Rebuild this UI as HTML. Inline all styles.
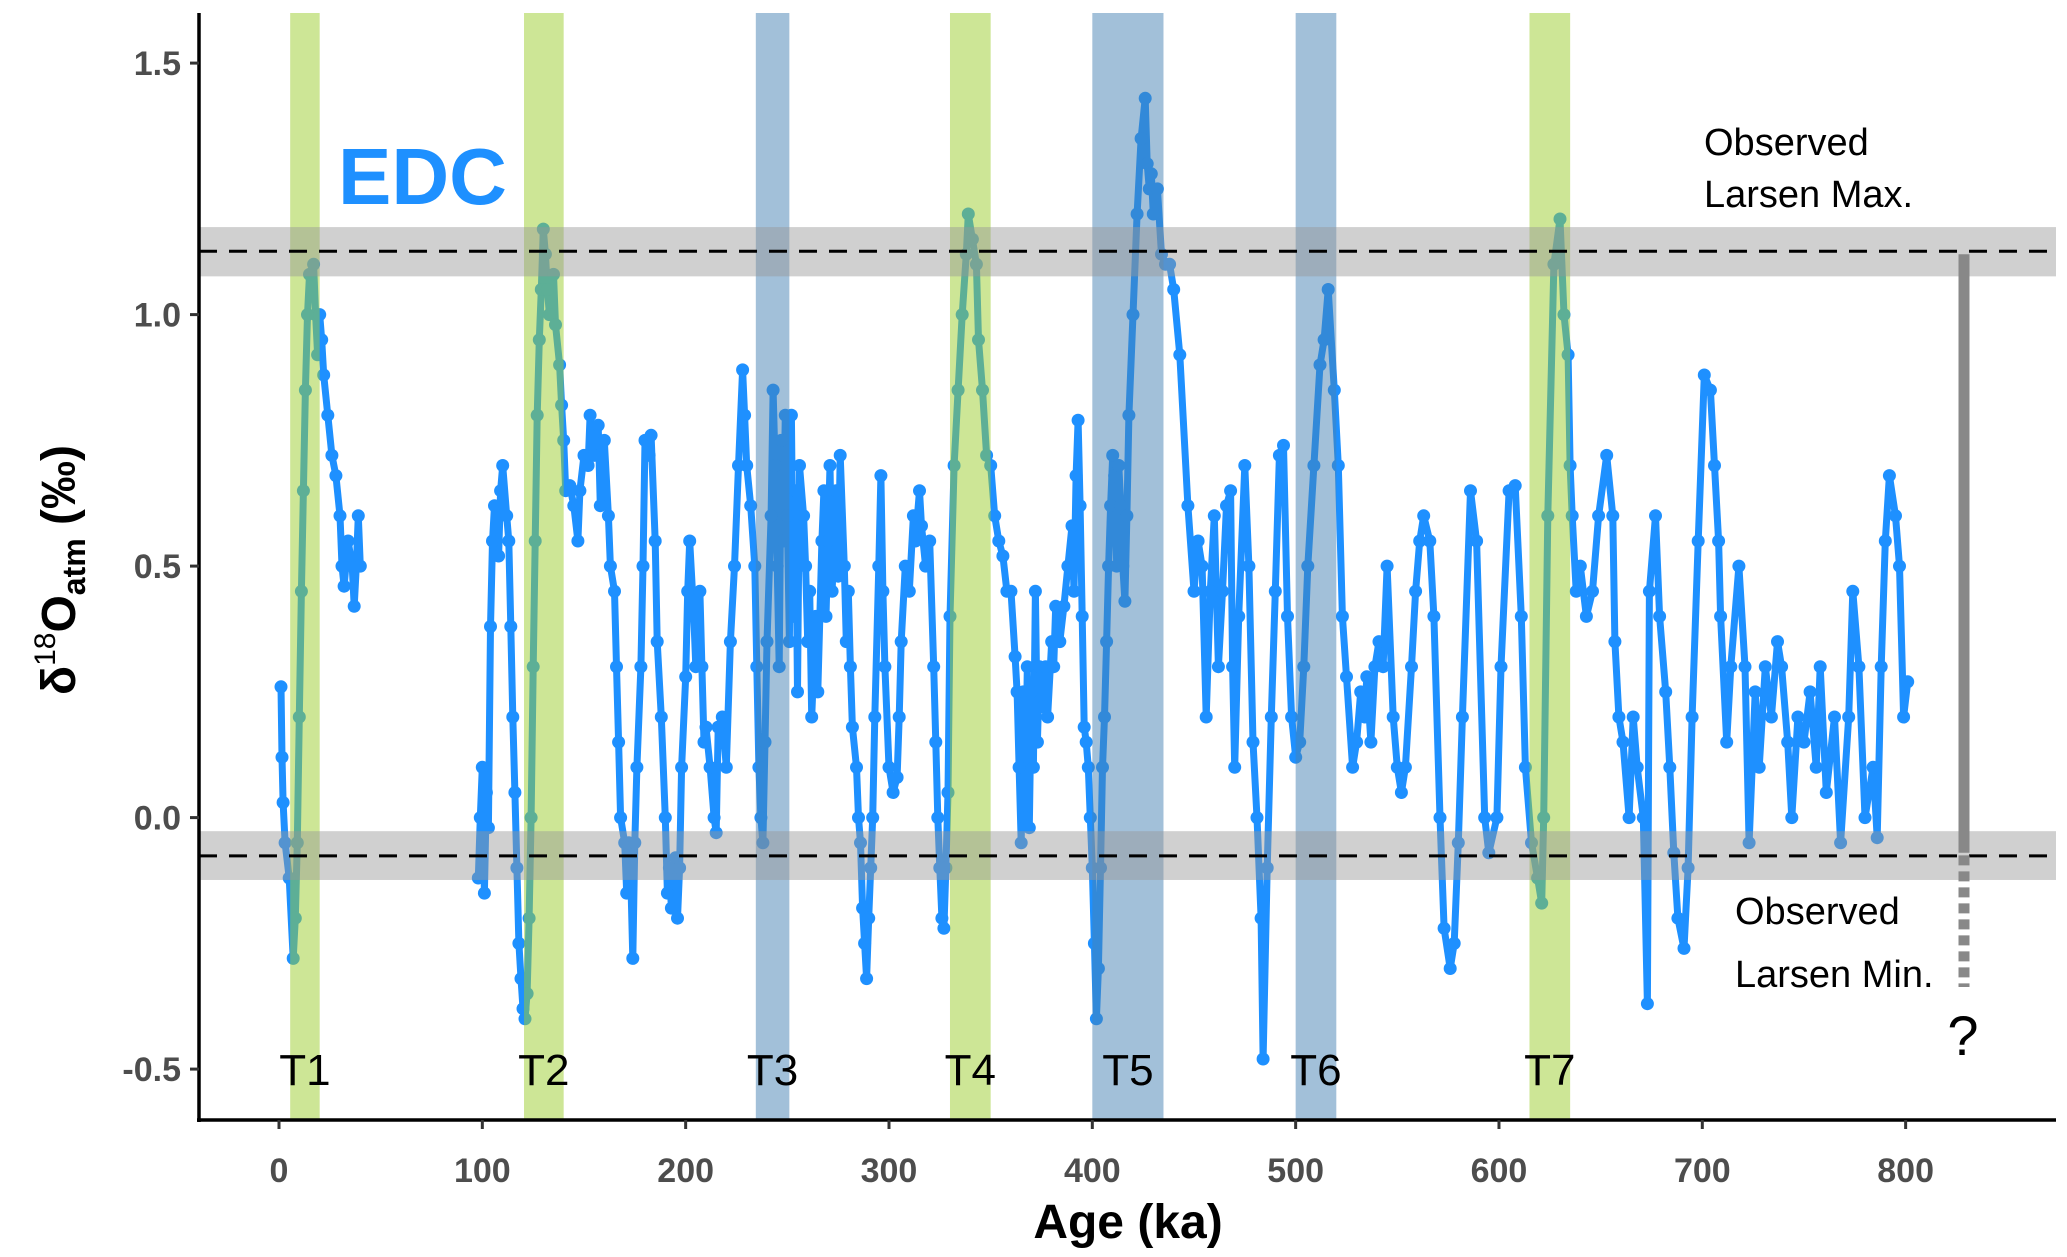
<!DOCTYPE html>
<html><head><meta charset="utf-8"><style>
html,body{margin:0;padding:0;background:#fff;}
svg{display:block;font-family:"Liberation Sans",sans-serif;}
</style></head><body>
<svg id="chart" width="2067" height="1257" viewBox="0 0 2067 1257" xmlns="http://www.w3.org/2000/svg">
<g id="series"></g>
<g id="bands"></g>
<g id="axes"></g>
</svg>
<script>
const ages=[1,1.5,2,3,5,7,8,9,10,11,12,13,14,15,17,18,19,20,21,22,24,26,28,30,31,32,34,36,37,38,39,40,
98,99,100,101,102,103,104,105,106,108,109,110,112,113,114,115,116,117,118,119,120,121,122,123,124,125,126,127,128,129,130,131,132,133,135,136,138,139,140,141,143,145,147,148,150,152,153,155,157,158,160,162,163,165,166,167,168,170,171,172,173,174,175,176,178,179,180,182,183,185,186,188,190,191,192,193,195,196,197,198,200,201,202,204,205,207,208,209,210,212,214,215,216,218,220,222,224,226,228,229,230,232,234,235,236,237,238,239,240,242,243,244,245,246,247,248,249,250,251,252,253,254,255,256,258,259,260,261,262,264,265,267,268,269,270,271,272,274,275,276,278,279,280,281,282,284,285,286,287,288,289,290,291,292,293,295,296,297,298,300,302,304,305,306,308,310,312,313,315,316,318,320,322,323,324,325,326,327,328,329,330,332,334,336,338,339,341,343,344,346,348,350,352,354,356,358,360,362,363,364,365,366,367,368,369,370,371,372,373,374,376,377,378,380,381,382,384,386,388,390,391,392,393,394,395,396,397,398,399,400,401,402,403,404,405,406,407,408,409,410,411,412,413,414,415,416,417,418,420,422,424,426,427,428,429,430,432,434,436,438,440,443,447,
450,452,454,456,458,460,462,464,466,468,469,470,472,475,477,479,481,483,484,486,488,490,492,494,496,498,500,502,504,506,509,512,514,516,519,521,523,525,528,530,532,534,535,537,539,541,543,545,548,550,552,554,557,559,561,563,566,568,571,573,576,578,580,582,586,589,593,595,599,601,605,608,611,613,616,619,621,622,624,627,630,632,634,635,636,638,640,643,646,649,653,656,657,659,661,664,666,668,671,673,674,677,679,682,684,686,688,691,693,695,698,701,704,706,708,709,712,714,718,721,723,726,728,731,734,737,739,742,744,747,750,753,756,758,761,765,768,772,774,777,780,784,786,788,790,792,795,797,799,801];
const d18O=[0.26,0.12,0.03,-0.05,-0.12,-0.28,-0.2,-0.05,0.2,0.45,0.65,0.85,1.0,1.08,1.1,1.0,0.92,1.0,0.95,0.88,0.8,0.72,0.68,0.6,0.5,0.46,0.55,0.5,0.42,0.5,0.6,0.5,
-0.12,0.0,0.1,-0.15,0.05,-0.02,0.38,0.55,0.62,0.52,0.65,0.7,0.6,0.55,0.38,0.2,0.05,-0.1,-0.25,-0.32,-0.38,-0.4,-0.35,-0.2,0.0,0.3,0.55,0.8,0.95,1.05,1.17,1.12,1.05,1.0,1.08,0.98,0.9,0.82,0.75,0.65,0.66,0.62,0.55,0.65,0.72,0.7,0.8,0.72,0.78,0.62,0.75,0.6,0.5,0.45,0.3,0.15,0.0,-0.05,-0.15,-0.05,-0.12,-0.28,-0.05,0.1,0.3,0.5,0.75,0.72,0.76,0.55,0.35,0.2,0.0,-0.15,-0.1,-0.18,-0.08,-0.2,-0.1,0.1,0.28,0.45,0.55,0.4,0.3,0.45,0.3,0.15,0.18,0.1,0.0,-0.03,0.18,0.2,0.1,0.35,0.5,0.7,0.89,0.8,0.7,0.62,0.5,0.3,0.1,0.0,-0.05,0.15,0.35,0.6,0.85,0.7,0.5,0.3,0.75,0.55,0.8,0.6,0.35,0.8,0.4,0.65,0.25,0.7,0.6,0.5,0.35,0.45,0.2,0.4,0.25,0.55,0.65,0.4,0.55,0.7,0.45,0.65,0.48,0.72,0.5,0.35,0.45,0.3,0.18,0.1,0.0,-0.05,-0.18,-0.25,-0.32,-0.2,-0.1,0.0,0.2,0.5,0.68,0.45,0.3,0.1,0.05,0.08,0.2,0.35,0.5,0.45,0.6,0.55,0.65,0.58,0.5,0.55,0.3,0.15,0.0,-0.1,-0.2,-0.22,-0.1,0.05,0.4,0.7,0.85,1.0,1.12,1.2,1.15,1.1,0.95,0.85,0.72,0.7,0.6,0.55,0.52,0.45,0.45,0.32,0.25,0.1,-0.05,0.25,0.0,0.3,-0.02,0.25,0.1,0.45,0.15,0.3,0.22,0.3,0.2,0.35,0.3,0.42,0.35,0.42,0.5,0.58,0.45,0.68,0.79,0.62,0.4,0.18,0.15,0.1,0.0,-0.1,-0.25,-0.4,-0.3,-0.1,0.1,0.2,0.35,0.5,0.62,0.72,0.68,0.5,0.7,0.62,0.5,0.43,0.6,0.8,1.0,1.2,1.35,1.43,1.3,1.25,1.28,1.2,1.25,1.12,1.1,1.1,1.05,0.92,0.62,
0.45,0.55,0.5,0.2,0.45,0.6,0.3,0.45,0.62,0.65,0.3,0.1,0.4,0.7,0.5,0.15,0.0,-0.2,-0.48,-0.1,0.2,0.45,0.72,0.74,0.4,0.2,0.12,0.15,0.3,0.5,0.7,0.9,0.95,1.05,0.85,0.7,0.4,0.28,0.1,0.15,0.25,0.2,0.28,0.15,0.3,0.35,0.3,0.5,0.2,0.1,0.05,0.1,0.3,0.45,0.55,0.6,0.55,0.4,0.0,-0.22,-0.3,-0.25,-0.05,0.2,0.65,0.55,0.0,-0.07,0.0,0.3,0.65,0.66,0.4,0.1,-0.05,-0.12,-0.17,0.0,0.6,1.1,1.19,1.0,0.92,0.7,0.6,0.45,0.5,0.4,0.45,0.6,0.72,0.6,0.35,0.2,0.15,0.0,0.2,0.1,0.0,-0.37,0.45,0.6,0.4,0.25,0.1,-0.07,-0.2,-0.26,-0.1,0.2,0.55,0.88,0.85,0.7,0.55,0.4,0.15,0.3,0.5,0.3,-0.05,0.25,0.1,0.3,0.2,0.35,0.3,0.15,0.0,0.2,0.15,0.25,0.1,0.3,0.05,0.2,-0.05,0.2,0.45,0.3,0.0,0.1,-0.04,0.3,0.55,0.68,0.6,0.5,0.2,0.27];
const xTicks=[0,100,200,300,400,500,600,700,800];
const yTicks=[-0.5,0.0,0.5,1.0,1.5];
const yTickLabels=["-0.5","0.0","0.5","1.0","1.5"];
const termNames=["T1","T2","T3","T4","T5","T6","T7"];
const termStart=[5.5,120.5,234.5,330,400,500,615];
const termEnd=[20,140,251,350,435,520,635];
const termKind=["g","g","b","g","b","b","g"];
const larsenMax=[1.126,1.076,1.174];
const larsenMin=[-0.076,-0.124,-0.027];

const NS="http://www.w3.org/2000/svg";
const X0=199,X1=2056,Y0=13,Y1=1120;
function xs(a){return 279+a*2.0333;}
function ys(v){return 817.6-503*v;}
function mk(tag,attrs,parent,text){const e=document.createElementNS(NS,tag);for(const k in attrs)e.setAttribute(k,attrs[k]);if(text!==undefined)e.textContent=text;parent.appendChild(e);return e;}
const S=document.getElementById('series'),B=document.getElementById('bands'),A=document.getElementById('axes');

let segs=[],cur=[];
for(let i=0;i<ages.length;i++){
  if(i>0&&ages[i]-ages[i-1]>30){segs.push(cur);cur=[];}
  cur.push(xs(ages[i]).toFixed(1)+","+ys(d18O[i]).toFixed(1));
}
segs.push(cur);
segs.forEach((s,i)=>{
  const p=mk('polyline',{points:s.join(' '),fill:'none',stroke:'#1E90FF','stroke-width':7,'stroke-linejoin':'round'},S);
  
  
});
for(let i=0;i<ages.length;i++){
  const c=mk('circle',{cx:xs(ages[i]).toFixed(1),cy:ys(d18O[i]).toFixed(1),r:6.5,fill:'#1E90FF'},S);
  
  
}

for(let i=0;i<termNames.length;i++){
  const r=mk('rect',{x:xs(termStart[i]),y:Y0,width:xs(termEnd[i])-xs(termStart[i]),height:Y1-Y0,fill:termKind[i]==='g'?'rgba(155,205,45,0.5)':'rgba(70,130,180,0.5)'},B);
  
  
}
[[larsenMax,'larsen-max'],[larsenMin,'larsen-min']].forEach(([L,n])=>{
  const r=mk('rect',{x:X0,y:ys(L[2]),width:X1-X0,height:ys(L[1])-ys(L[2]),fill:'rgba(150,150,150,0.45)'},B);
  
  
  const l=mk('line',{x1:X0,x2:X1,y1:ys(L[0]),y2:ys(L[0]),stroke:'#000','stroke-width':3,'stroke-dasharray':'18,12'},B);
  
  
});
for(let i=0;i<termNames.length;i++){
  const t=mk('text',{x:(xs(termStart[i])+xs(termEnd[i]))/2,y:ys(-0.5)+16,'font-size':44,'text-anchor':'middle',fill:'#000'},B,termNames[i]);
  
  
}

let e=mk('line',{x1:X0,x2:X0,y1:Y0,y2:Y1+2,stroke:'#000','stroke-width':3.5},A);

e=mk('line',{x1:X0-2,x2:X1,y1:Y1,y2:Y1,stroke:'#000','stroke-width':3.5},A);

yTicks.forEach((v,i)=>{
  let t=mk('line',{x1:X0-9,x2:X0,y1:ys(v),y2:ys(v),stroke:'#333','stroke-width':3},A);
  
  t=mk('text',{x:X0-18,y:ys(v)+12,'font-size':34,'font-weight':'bold','text-anchor':'end',fill:'#4d4d4d'},A,yTickLabels[i]);
  
});
xTicks.forEach(v=>{
  let t=mk('line',{x1:xs(v),x2:xs(v),y1:Y1,y2:Y1+9,stroke:'#333','stroke-width':3},A);
  
  t=mk('text',{x:xs(v),y:1182,'font-size':34,'font-weight':'bold','text-anchor':'middle',fill:'#4d4d4d'},A,String(v));
  
});
e=mk('text',{x:1128,y:1238,'font-size':48,'font-weight':'bold','text-anchor':'middle',fill:'#000'},A,'Age (ka)');

e=mk('text',{transform:'translate(75,570) rotate(-90)','font-size':48,'font-weight':'bold','text-anchor':'middle',fill:'#000'},A);

e.innerHTML='δ<tspan font-size="30" font-weight="normal" dy="-20">18</tspan><tspan dy="20">O</tspan><tspan font-size="32" dy="10">atm</tspan><tspan dy="-10"> (‰)</tspan>';

e=mk('text',{x:338,y:204,'font-size':80,'font-weight':'bold',fill:'#1E90FF'},A,'EDC');

e=mk('text',{x:1704,y:155,'font-size':38,fill:'#000'},A,'Observed');

e=mk('text',{x:1704,y:207,'font-size':38,fill:'#000'},A,'Larsen Max.');

e=mk('text',{x:1735,y:924,'font-size':38,fill:'#000'},A,'Observed');

e=mk('text',{x:1735,y:987,'font-size':38,fill:'#000'},A,'Larsen Min.');

e=mk('line',{x1:1964,x2:1964,y1:ys(1.12),y2:ys(-0.07),stroke:'#888','stroke-width':11},A);

e=mk('line',{x1:1964,x2:1964,y1:ys(-0.075),y2:987,stroke:'#888','stroke-width':11,'stroke-dasharray':'10,6'},A);

e=mk('text',{x:1963,y:1055,'font-size':56,'text-anchor':'middle',fill:'#000'},A,'?');

</script>
</body></html>
